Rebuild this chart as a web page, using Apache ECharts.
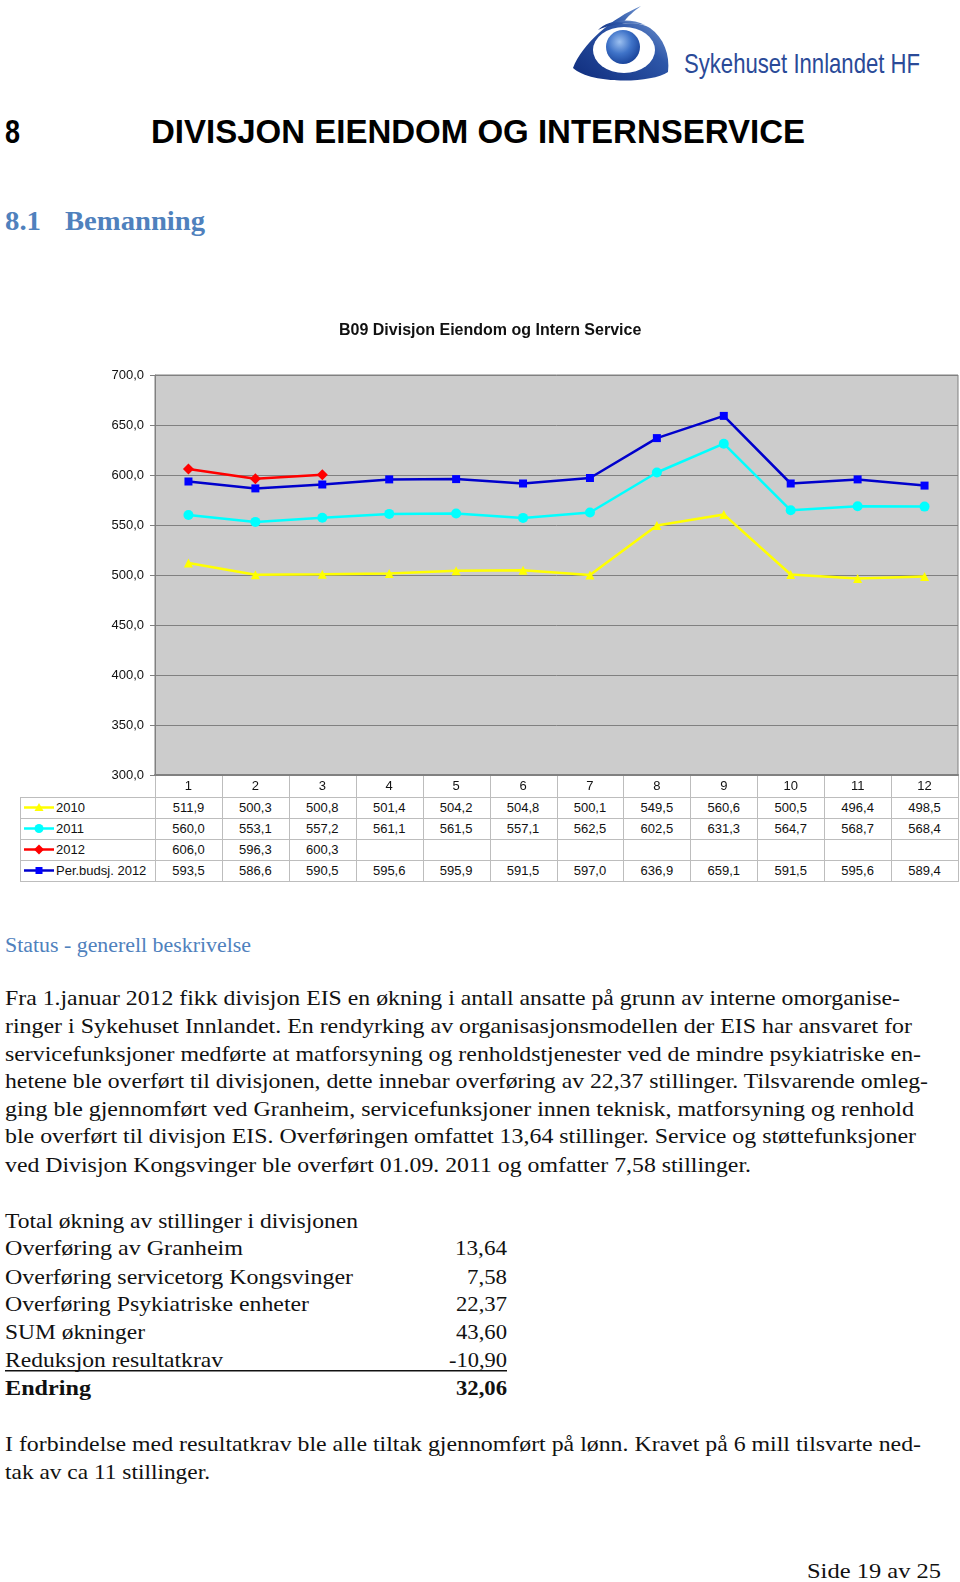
<!DOCTYPE html>
<html><head><meta charset="utf-8">
<script src="https://cdn.jsdelivr.net/npm/echarts@6/dist/echarts.min.js"></script>
<style>
html,body{margin:0;padding:0;background:#fff;width:960px;height:1582px;overflow:hidden;}
#page{position:absolute;left:0;top:0;width:960px;height:1582px;}
#tbl{position:absolute;left:0;top:0;width:960px;height:900px;}
#chart{position:absolute;left:0;top:300px;width:960px;height:500px;}
.cell{position:absolute;font:13px 'Liberation Sans',Arial,sans-serif;color:#111;text-align:center;height:21px;line-height:21px;white-space:nowrap;}
.hl{position:absolute;height:1px;background:#bdbdbd;}
.vl{position:absolute;width:1px;background:#bdbdbd;}
</style></head><body>
<svg id="page" width="960" height="1582" xmlns="http://www.w3.org/2000/svg">
  <defs>
    <linearGradient id="lg" x1="0" y1="1" x2="1" y2="0">
      <stop offset="0" stop-color="#0f2c7c"/>
      <stop offset="0.6" stop-color="#2d56a8"/>
      <stop offset="1" stop-color="#8fb0e0"/>
    </linearGradient>
    <radialGradient id="rg" cx="0.4" cy="0.35" r="0.7">
      <stop offset="0" stop-color="#9cc0f0"/>
      <stop offset="0.5" stop-color="#3f73c8"/>
      <stop offset="1" stop-color="#163f96"/>
    </radialGradient>
  </defs>
  <!-- logo -->
  <path d="M641 6 C612 18 582 44 573 68 C590 84 650 84 668 72 C670 55 664 38 650 28 C644 24 632 22 622 24 C628 16 634 11 641 6 Z" fill="url(#lg)"/>
  <ellipse cx="624" cy="50" rx="31" ry="23" fill="#ffffff"/>
  <path d="M598 30 C607 20 630 17 645 25 C630 22 610 24 598 30 Z" fill="url(#lg)"/>
  <circle cx="623" cy="47" r="17" fill="url(#rg)"/>
  <text x="684" y="73" font-family="'Liberation Sans Narrow','Liberation Sans',sans-serif" font-size="28" fill="#2a4a98" textLength="236" lengthAdjust="spacingAndGlyphs">Sykehuset Innlandet HF</text>

  <!-- headings -->
  <text x="5" y="143" font-family="'Liberation Sans',Arial,sans-serif" font-weight="bold" font-size="33" fill="#000" textLength="15" lengthAdjust="spacingAndGlyphs">8</text>
  <text x="151" y="143" font-family="'Liberation Sans',Arial,sans-serif" font-weight="bold" font-size="33" fill="#000" textLength="654" lengthAdjust="spacingAndGlyphs">DIVISJON EIENDOM OG INTERNSERVICE</text>
  <text x="5" y="230" font-family="'Liberation Serif',serif" font-weight="bold" font-size="28" fill="#4f81bd" textLength="36" lengthAdjust="spacingAndGlyphs">8.1</text>
  <text x="65" y="230" font-family="'Liberation Serif',serif" font-weight="bold" font-size="28" fill="#4f81bd" textLength="140" lengthAdjust="spacingAndGlyphs">Bemanning</text>

  <text x="5" y="952" font-family="'Liberation Serif',serif" font-size="20" fill="#4f81bd" textLength="246" lengthAdjust="spacingAndGlyphs">Status - generell beskrivelse</text>

  <g font-family="'Liberation Serif',serif" font-size="21" fill="#111">
    <text x="5" y="1005" textLength="895" lengthAdjust="spacingAndGlyphs">Fra 1.januar 2012 fikk divisjon EIS en økning i antall ansatte på grunn av interne omorganise-</text>
    <text x="5" y="1033" textLength="907" lengthAdjust="spacingAndGlyphs">ringer i Sykehuset Innlandet. En rendyrking av organisasjonsmodellen der EIS har ansvaret for</text>
    <text x="5" y="1061" textLength="916" lengthAdjust="spacingAndGlyphs">servicefunksjoner medførte at matforsyning og renholdstjenester ved de mindre psykiatriske en-</text>
    <text x="5" y="1088" textLength="923" lengthAdjust="spacingAndGlyphs">hetene ble overført til divisjonen, dette innebar overføring av 22,37 stillinger. Tilsvarende omleg-</text>
    <text x="5" y="1116" textLength="909" lengthAdjust="spacingAndGlyphs">ging ble gjennomført ved Granheim, servicefunksjoner innen teknisk, matforsyning og renhold</text>
    <text x="5" y="1143" textLength="911" lengthAdjust="spacingAndGlyphs">ble overført til divisjon EIS. Overføringen omfattet 13,64 stillinger. Service og støttefunksjoner</text>
    <text x="5" y="1172" textLength="746" lengthAdjust="spacingAndGlyphs">ved Divisjon Kongsvinger ble overført 01.09. 2011 og omfatter 7,58 stillinger.</text>

    <text x="5" y="1228" textLength="353" lengthAdjust="spacingAndGlyphs">Total økning av stillinger i divisjonen</text>
    <text x="5" y="1255" textLength="238" lengthAdjust="spacingAndGlyphs">Overføring av Granheim</text>
    <text x="5" y="1284" textLength="348" lengthAdjust="spacingAndGlyphs">Overføring servicetorg Kongsvinger</text>
    <text x="5" y="1311" textLength="304" lengthAdjust="spacingAndGlyphs">Overføring Psykiatriske enheter</text>
    <text x="5" y="1339" textLength="140" lengthAdjust="spacingAndGlyphs">SUM økninger</text>
    <text x="5" y="1367" textLength="218" lengthAdjust="spacingAndGlyphs">Reduksjon resultatkrav</text>
    <text x="5" y="1395" font-weight="bold" textLength="86" lengthAdjust="spacingAndGlyphs">Endring</text>

    <text x="455" y="1255" textLength="52" lengthAdjust="spacingAndGlyphs">13,64</text>
    <text x="467" y="1284" textLength="40" lengthAdjust="spacingAndGlyphs">7,58</text>
    <text x="456" y="1311" textLength="51" lengthAdjust="spacingAndGlyphs">22,37</text>
    <text x="456" y="1339" textLength="51" lengthAdjust="spacingAndGlyphs">43,60</text>
    <text x="449" y="1367" textLength="58" lengthAdjust="spacingAndGlyphs">-10,90</text>
    <text x="456" y="1395" font-weight="bold" textLength="51" lengthAdjust="spacingAndGlyphs">32,06</text>

    <text x="5" y="1451" textLength="916" lengthAdjust="spacingAndGlyphs">I forbindelse med resultatkrav ble alle tiltak gjennomført på lønn. Kravet på 6 mill tilsvarte ned-</text>
    <text x="5" y="1479" textLength="205" lengthAdjust="spacingAndGlyphs">tak av ca 11 stillinger.</text>

    <text x="807" y="1578" font-size="22" textLength="134" lengthAdjust="spacingAndGlyphs">Side 19 av 25</text>
  </g>
  <rect x="5" y="1370" width="502" height="1.5" fill="#111"/>
</svg>
<div id="tbl"></div>
<div id="chart"></div>
<script>
// ---- data ----
const months = ['1','2','3','4','5','6','7','8','9','10','11','12'];
const seriesNames = ['2010','2011','2012','Per.budsj. 2012'];
const v2010 = [511.9, 500.3, 500.8, 501.4, 504.2, 504.8, 500.1, 549.5, 560.6, 500.5, 496.4, 498.5];
const v2011 = [560.0, 553.1, 557.2, 561.1, 561.5, 557.1, 562.5, 602.5, 631.3, 564.7, 568.7, 568.4];
const v2012 = [606.0, 596.3, 600.3, null, null, null, null, null, null, null, null, null];
const vBudget = [593.5, 586.6, 590.5, 595.6, 595.9, 591.5, 597.0, 636.9, 659.1, 591.5, 595.6, 589.4];
const yMin = 300, yMax = 700, yStep = 50;

const allValues = [v2010, v2011, v2012, vBudget];
const colors = ['#ffff00', '#00ffff', '#ff0000', '#0000cc'];
const markerColors = ['#ffff00', '#00ffff', '#ff0000', '#0000ff'];
const symbols = ['triangle', 'circle', 'diamond', 'rect'];
const symbolSizes = [9, 10, 11, 8];

const fmt = v => (v == null ? '' : v.toFixed(1).replace('.', ','));

// ---- chart ----
const chart = echarts.init(document.getElementById('chart'), null, {renderer: 'canvas'});
const GRID_L = 155, GRID_R = 958, GRID_T = 75, GRID_H = 400;
chart.setOption({
  animation: false,
  title: {
    text: 'B09 Divisjon Eiendom og Intern Service',
    left: 334, top: 18,
    textStyle: {fontFamily: "'Liberation Sans', Arial, sans-serif", fontSize: 16, fontWeight: 'bold', color: '#111'}
  },
  grid: {left: GRID_L, right: 960 - GRID_R, top: GRID_T, height: GRID_H, show: true,
         backgroundColor: '#cccccc', borderColor: '#808080', borderWidth: 1},
  xAxis: {
    type: 'category', data: months, boundaryGap: true,
    axisLine: {show: true, lineStyle: {color: '#808080', width: 2}},
    axisTick: {show: false},
    axisLabel: {color: '#111', fontFamily: "'Liberation Sans', Arial, sans-serif", fontSize: 13, margin: 5},
    splitLine: {show: false}
  },
  yAxis: {
    type: 'value', min: yMin, max: yMax, interval: yStep,
    axisLine: {show: true, lineStyle: {color: '#808080'}},
    axisTick: {show: true, length: 5, lineStyle: {color: '#808080'}},
    axisLabel: {formatter: v => fmt(v), color: '#111', fontFamily: "'Liberation Sans', Arial, sans-serif", fontSize: 13, margin: 11},
    splitLine: {show: true, lineStyle: {color: '#808080', width: 1}}
  },
  series: allValues.map((vals, i) => ({
    name: seriesNames[i], type: 'line', data: vals,
    symbol: symbols[i], symbolSize: symbolSizes[i], showAllSymbol: true,
    lineStyle: {color: colors[i], width: 2.5},
    itemStyle: {color: markerColors[i], borderWidth: 0},
    connectNulls: false, z: 2 + i
  }))
});

// ---- data table (built from the arrays) ----
const tbl = document.getElementById('tbl');
const colW = (GRID_R - GRID_L) / months.length;
const headTop = 775, rowH = 21, firstRow = 797, legL = 20;
const rowTops = seriesNames.map((_, i) => firstRow + i * rowH);
const tableBottom = firstRow + seriesNames.length * rowH;
function add(html){ tbl.insertAdjacentHTML('beforeend', html); }
rowTops.concat([tableBottom]).forEach(y => add(`<div class="hl" style="left:${legL}px;top:${y}px;width:${GRID_R - legL + 1}px"></div>`));
add(`<div class="vl" style="left:${legL}px;top:${firstRow}px;height:${tableBottom - firstRow + 1}px"></div>`);
for (let i = 0; i <= months.length; i++) {
  const x = Math.round(GRID_L + i * colW);
  add(`<div class="vl" style="left:${x}px;top:${headTop}px;height:${tableBottom - headTop + 1}px"></div>`);
}
function keySvg(i){
  const c = colors[i], m = markerColors[i], cx = 17, cy = 10.5;
  let mk = '';
  if (symbols[i] === 'triangle') mk = `<polygon points="${cx},${cy-4.5} ${cx+4.5},${cy+3.5} ${cx-4.5},${cy+3.5}" fill="${m}"/>`;
  else if (symbols[i] === 'circle') mk = `<circle cx="${cx}" cy="${cy}" r="4.5" fill="${m}"/>`;
  else if (symbols[i] === 'diamond') mk = `<polygon points="${cx},${cy-5} ${cx+5},${cy} ${cx},${cy+5} ${cx-5},${cy}" fill="${m}"/>`;
  else mk = `<rect x="${cx-3.5}" y="${cy-3.5}" width="7" height="7" fill="${m}"/>`;
  return `<svg width="34" height="21" style="position:absolute;left:0;top:0"><line x1="2" y1="${cy}" x2="32" y2="${cy}" stroke="${c}" stroke-width="2.5"/>${mk}</svg>`;
}
seriesNames.forEach((name, r) => {
  const top = rowTops[r];
  add(`<div class="cell" style="left:${legL + 2}px;top:${top}px;width:130px;text-align:left">${keySvg(r)}<span style="position:absolute;left:34px;top:0">${name}</span></div>`);
  allValues[r].forEach((v, c) => {
    add(`<div class="cell" style="left:${GRID_L + c * colW}px;top:${top}px;width:${colW}px">${fmt(v)}</div>`);
  });
});
</script>
</body></html>
